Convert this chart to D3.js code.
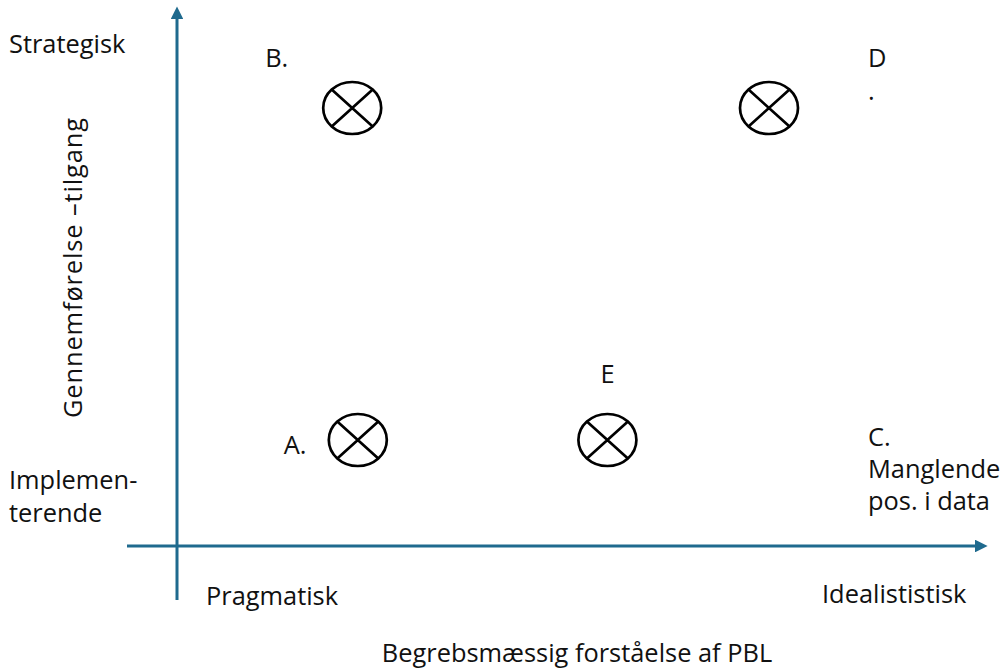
<!DOCTYPE html>
<html>
<head>
<meta charset="utf-8">
<script src="https://cdn.jsdelivr.net/npm/d3@7"></script>
<style>
  body { margin: 0; background: #fff; }
  text { font-family: "Open Sans", sans-serif; fill: #111; }
</style>
</head>
<body>
<svg width="1006" height="668"></svg>
<script>
// positions on the two dimensions, 0-100
var names = ["A.", "B.", "D", "E"];
var xValues = [22.6, 21.9, 74, 53.8];
var yValues = [21.2, 87.6, 87.6, 21.2];

var xTickLabels = ["Pragmatisk", "Idealististisk"];
var yTickLabels = [["Strategisk"], ["Implemen-", "terende"]];
var xTitle = "Begrebsmæssig forståelse af PBL";
var yTitle = "Gennemførelse –tilgang";
var missingLabel = ["C.", "Manglende", "pos. i data"];

var svg = d3.select("svg");
var axisColor = "#1f6a8e";
var fontSize = 25.4;

var x = d3.scaleLinear().domain([0, 100]).range([177, 977]);
var y = d3.scaleLinear().domain([0, 100]).range([546, 46]);

var defs = svg.append("defs");
defs.append("marker").attr("id", "arrow")
    .attr("viewBox", "0 0 10 10").attr("refX", 0).attr("refY", 5)
    .attr("markerWidth", 4.2).attr("markerHeight", 4.2)
    .attr("orient", "auto")
    .append("path").attr("d", "M0,0L10,5L0,10z").attr("fill", axisColor);

// axes
svg.append("line")
    .attr("x1", 127).attr("y1", y(0))
    .attr("x2", 975).attr("y2", y(0))
    .attr("stroke", axisColor).attr("stroke-width", 3)
    .attr("marker-end", "url(#arrow)");
svg.append("line")
    .attr("x1", x(0)).attr("y1", 600)
    .attr("x2", x(0)).attr("y2", 19)
    .attr("stroke", axisColor).attr("stroke-width", 3)
    .attr("marker-end", "url(#arrow)");

// pole labels
svg.append("text").attr("x", 206).attr("y", 605)
    .attr("font-size", fontSize).text(xTickLabels[0]);
svg.append("text").attr("x", 822).attr("y", 603)
    .attr("font-size", fontSize).text(xTickLabels[1]);

svg.append("text").attr("x", 9).attr("y", 53)
    .attr("font-size", fontSize).text(yTickLabels[0][0]);
svg.append("text").attr("x", 9).attr("y", 489)
    .attr("font-size", fontSize)
    .selectAll("tspan").data(yTickLabels[1]).enter().append("tspan")
    .attr("x", 9).attr("dy", function (d, i) { return i ? 33 : 0; })
    .text(function (d) { return d; });

// titles
svg.append("text").attr("x", 577).attr("y", 662)
    .attr("text-anchor", "middle").attr("font-size", fontSize).text(xTitle);
svg.append("text")
    .attr("transform", "translate(82," + 268 + ") rotate(-90)")
    .attr("text-anchor", "middle").attr("font-size", fontSize)
    .attr("textLength", 300).attr("lengthAdjust", "spacing")
    .text(yTitle);

// markers
var rx = 29, ry = 26;
var k = Math.SQRT1_2;
var pts = names.map(function (n, i) { return {name: n, x: xValues[i], y: yValues[i]}; });

var g = svg.append("g").selectAll("g").data(pts).enter().append("g")
    .attr("transform", function (d) { return "translate(" + x(d.x) + "," + y(d.y) + ")"; });
g.append("ellipse").attr("rx", rx).attr("ry", ry)
    .attr("fill", "none").attr("stroke", "#000").attr("stroke-width", 2.7);
g.append("path")
    .attr("d", "M" + (-rx * k) + "," + (-ry * k) + "L" + (rx * k) + "," + (ry * k) +
        "M" + (rx * k) + "," + (-ry * k) + "L" + (-rx * k) + "," + (ry * k))
    .attr("stroke", "#000").attr("stroke-width", 2.7);

// point labels
var labelOffset = {
    "A.": [-74, 14],
    "B.": [-87, -41],
    "D": [99, -41],
    "E": [-7, -57]
};
g.append("text").attr("font-size", fontSize)
    .attr("x", function (d) { return labelOffset[d.name][0]; })
    .attr("y", function (d) { return labelOffset[d.name][1]; })
    .text(function (d) { return d.name; });
// stray period under D
g.filter(function (d) { return d.name === "D"; }).append("text")
    .attr("font-size", fontSize).attr("x", 99).attr("y", -8).text(".");

// quadrant C without a position
svg.append("text").attr("x", 868).attr("y", 446).attr("font-size", fontSize)
    .selectAll("tspan").data(missingLabel).enter().append("tspan")
    .attr("x", 868).attr("dy", function (d, i) { return i ? 32 : 0; })
    .text(function (d) { return d; });
</script>
</body>
</html>
